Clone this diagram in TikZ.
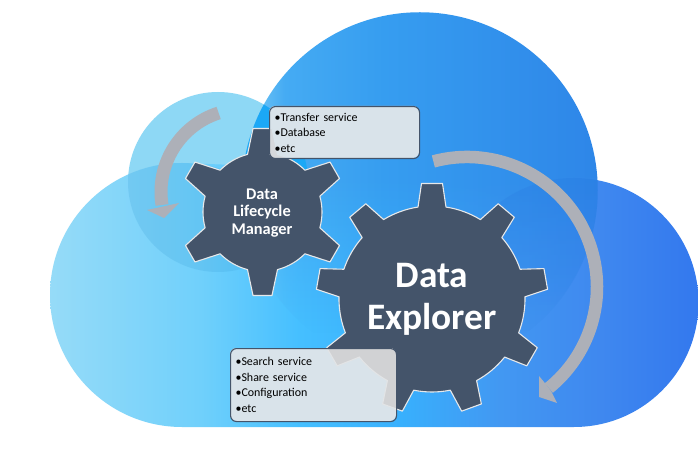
\documentclass[tikz,border=0pt]{standalone}
\usepackage{fontspec}
\setmainfont{Carlito}
\usetikzlibrary{fadings}
\definecolor{geardark}{HTML}{44546A}
\definecolor{gearline}{HTML}{E6E8EA}
\definecolor{arrowgrey}{HTML}{ADB0B8}
\definecolor{boxfill}{HTML}{D9E3EA}
\definecolor{bodyA}{HTML}{96DBF8}
\definecolor{bodyB}{HTML}{70D0FB}
\definecolor{bodyC}{HTML}{45BFFF}
\definecolor{bodyD}{HTML}{38B0FD}
\definecolor{bodyE}{HTML}{4298F2}
\definecolor{bodyF}{HTML}{3F88EF}
\definecolor{bodyG}{HTML}{3378EE}
\definecolor{bigA}{HTML}{80CFF6}
\definecolor{bigB}{HTML}{45ABF3}
\definecolor{bigC}{HTML}{369DF0}
\definecolor{bigD}{HTML}{2E86E8}
\definecolor{smallA}{HTML}{8ED8F5}
\definecolor{overlapA}{HTML}{3AA0D8}
\definecolor{overlapB}{HTML}{1BA8F6}
\definecolor{overlapC}{HTML}{1F66D8}
\definecolor{ghostA}{HTML}{D5D8DC}
\definecolor{ghostB}{HTML}{D1D2D4}
\definecolor{ghostline}{HTML}{E2E4E6}
\pgfdeclarehorizontalshading{bodyshade}{100bp}{
  color(0bp)=(bodyA);
  color(25bp)=(bodyA);
  color(36.6bp)=(bodyB);
  color(44.3bp)=(bodyC);
  color(52bp)=(bodyD);
  color(59.7bp)=(bodyE);
  color(67.4bp)=(bodyF);
  color(75bp)=(bodyG);
  color(100bp)=(bodyG)}
\pgfdeclarehorizontalshading{bigshade}{100bp}{
  color(0bp)=(bigA);
  color(25bp)=(bigA);
  color(31bp)=(bigB);
  color(45bp)=(bigC);
  color(75bp)=(bigD);
  color(100bp)=(bigD)}
\pgfdeclareverticalshading{bigfadeshade}{100bp}{
  color(0bp)=(black);
  color(30bp)=(black);
  color(52bp)=(white);
  color(100bp)=(white)}
\pgfdeclarefading{bigfade}{\pgfuseshading{bigfadeshade}}
\newcommand{\gearshape}[9]{%
  \pgfmathsetmacro\gearA{asin(#8/#4)}%
  \pgfmathsetmacro\gearB{asin(#9/#5)}%
  \pgfmathsetmacro\gearS{360/#6}%
  \pgfmathtruncatemacro\gearN{#6-1}%
  \path[#1,shift={(#2,#3)}] (#7-\gearA:#4)
    foreach \gi [evaluate=\gi as \gt using {#7+\gi*\gearS}] in {0,...,\gearN} {
      -- (\gt-\gearB:#5) -- (\gt+\gearB:#5) -- (\gt+\gearA:#4)
      arc[start angle=\gt+\gearA, end angle=\gt+\gearS-\gearA, radius=#4]
    } -- cycle;
}
\newcommand{\smallgear}[1]{\gearshape{#1}{262.5}{212}{59.5}{84}{6}{-90}{15}{9.5}}
\newcommand{\biggear}[1]{\gearshape{#1}{432}{299}{93}{116}{9}{-90}{14}{10.5}}
\tikzset{
  gearstyle/.style={fill=geardark,draw=gearline,line width=1.1bp,line join=round},
  boxframe/.style={draw=geardark,line width=1.1bp,rounded corners=6bp,anchor=north west,
    inner xsep=5bp,inner ysep=0pt,align=left,text=black,
    font=\fontsize{12}{15.6}\selectfont},
  geartext/.style={text=white,align=center},
  arrowband/.style={draw=arrowgrey,line cap=butt},
  arrowtip/.style={fill=arrowgrey,draw=none}
}
\begin{document}
\begin{tikzpicture}[x=1bp,y=-1bp]
\useasboundingbox (0,0) rectangle (698,461);
\fill[white] (0,0) rectangle (698,461);
% small back lobe
\fill[smallA] (218,182) circle[radius=90];
% body
\shade[shading=bodyshade] (182,427) -- (574,427)
  arc[start angle=90,end angle=-90,radius=124.5] -- (182,163)
  arc[start angle=270,end angle=90,radius=132] -- cycle;
% overlap small lobe / left lobe
\begin{scope}
  \clip (218,182) circle[radius=90];
  \clip (182,295) circle[radius=132];
  \fill[overlapA,opacity=.22] (0,0) rectangle (698,461);
\end{scope}
% big lobe, fading into the body
\shade[shading=bigshade,path fading=bigfade] (420,190) circle[radius=178];
% overlap big lobe / small lobe
\begin{scope}
  \clip (218,182) circle[radius=90];
  \clip (420,190) circle[radius=178];
  \fill[overlapB] (0,0) rectangle (698,461);
\end{scope}
% overlap big lobe / right lobe, fading out downwards
\begin{scope}
  \clip (574,302.5) circle[radius=124.5];
  \fill[overlapC,opacity=.14,path fading=bigfade] (420,190) circle[radius=178];
\end{scope}
% grey arrows
\draw[arrowband,line width=12.5bp] (467,287) ++(-105:130) arc[start angle=-105,end angle=51,radius=130];
\fill[arrowtip] (539,397) -- (539,376) -- (546.5,385) -- (551,391) -- (557,403) -- cycle;
\draw[arrowband,line width=13bp] (244,192) ++(252.2:83) arc[start angle=252.2,end angle=171,radius=83];
\fill[arrowtip] (164,218) -- (147,210) -- (179,203) -- cycle;
% gears
\smallgear{gearstyle}
\biggear{gearstyle}
% boxes
\fill[boxfill,rounded corners=6bp] (269,106) rectangle (419,158);
\begin{scope}
  \clip[rounded corners=6bp] (269,106) rectangle (419,158);
  \smallgear{fill=ghostA,draw=boxfill,line width=1.1bp}
\end{scope}
\fill[boxfill,rounded corners=6bp] (230,348) rectangle (396,421);
\begin{scope}
  \clip[rounded corners=6bp] (230,348) rectangle (396,421);
  \biggear{fill=ghostB,draw=ghostline,line width=1.1bp}
\end{scope}
\node[boxframe,minimum width=150bp,minimum height=52bp,text width=140bp] (transferbox) at (269,106)
  {•Transfer service\\•Database\\•etc};
\node[boxframe,minimum width=166bp,minimum height=73bp,text width=156bp] (searchbox) at (230,348)
  {•Search service\\•Share service\\•Configuration\\•etc};
% gear labels
\node[geartext,font=\bfseries\fontsize{16.4}{17.5}\selectfont] (lifecycle) at (262,213) {Data\\Lifecycle\\Manager};
\node[geartext,font=\bfseries\fontsize{37.5}{42}\selectfont] (explorer) at (432,299.5) {Data\\Explorer};
\end{tikzpicture}
\end{document}
